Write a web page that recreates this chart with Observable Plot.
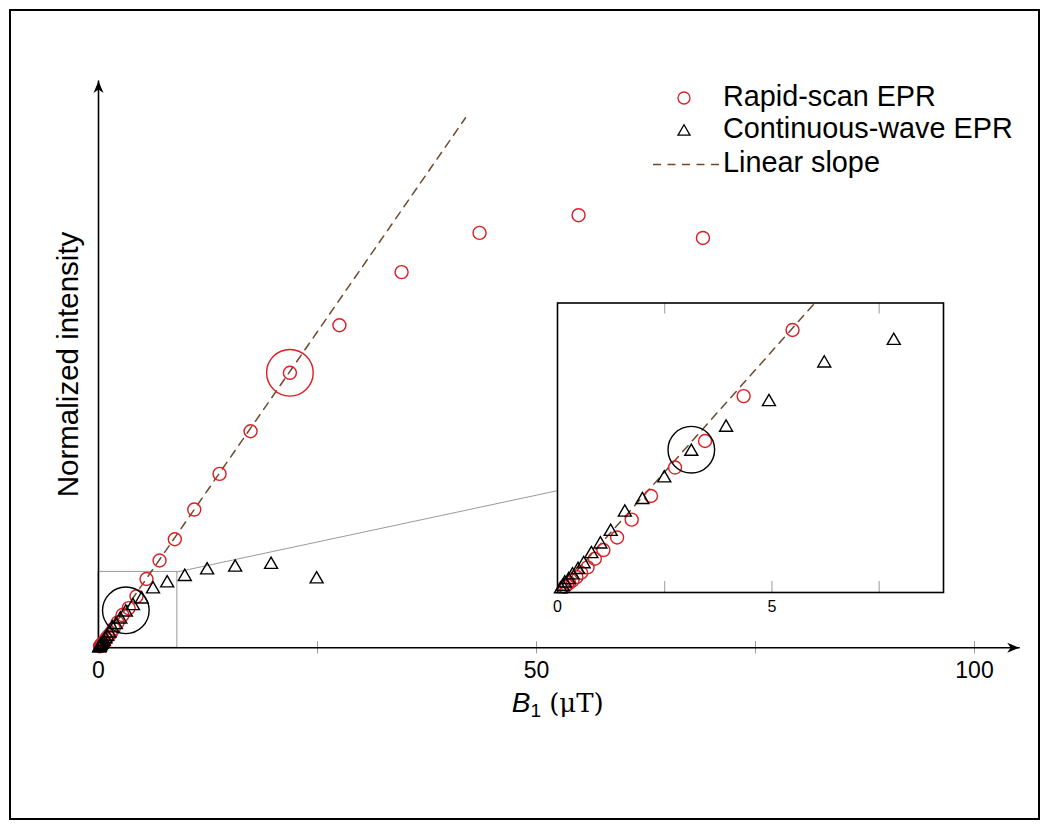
<!DOCTYPE html>
<html><head><meta charset="utf-8">
<script src="https://cdn.jsdelivr.net/npm/d3@7"></script>
<script src="https://cdn.jsdelivr.net/npm/@observablehq/plot@0.6"></script>
<style>
body{margin:0;background:#fff;}
#wrap{position:relative;width:1050px;height:831px;font-family:"Liberation Sans",Arial,sans-serif;}
#wrap svg{overflow:visible;}
#frame{position:absolute;left:9px;top:9px;width:1031px;height:811px;box-sizing:border-box;border:2px solid #000;pointer-events:none;}
#inset{position:absolute;left:547.3px;top:300px;}
#main{position:absolute;left:0;top:0;}
</style></head><body>
<div id="wrap"><div id="main"></div><div id="inset"></div><div id="frame"></div></div>
<script>
// ---- data ----
const rapidB1        = [69.0, 54.8, 43.5, 34.6, 27.5, 21.85, 17.36, 13.82, 10.93, 8.71, 6.97, 5.48, 4.34, 3.44, 2.74, 2.18, 1.73, 1.39, 1.07, 0.87, 0.70, 0.55, 0.44, 0.35, 0.27, 0.22, 0.17];
const rapidIntensity = [32.4, 34.2, 32.8, 29.7, 25.5, 21.74, 17.12, 13.75, 10.93, 8.58, 6.90, 5.44, 4.07, 3.14, 2.59, 2.00, 1.51, 1.14, 0.88, 0.70, 0.52, 0.41, 0.32, 0.25, 0.20, 0.16, 0.12];
const cwB1           = [24.9, 19.7, 15.6, 12.4, 9.85, 7.84, 6.22, 4.93, 3.93, 3.12, 2.49, 1.98, 1.57, 1.24, 1.00, 0.79, 0.61, 0.48, 0.35, 0.26, 0.17, 0.12, 0.08];
const cwIntensity    = [5.58, 6.72, 6.51, 6.29, 5.77, 5.26, 4.79, 3.99, 3.46, 2.96, 2.41, 1.96, 1.70, 1.30, 1.04, 0.84, 0.63, 0.51, 0.40, 0.30, 0.23, 0.16, 0.11];
const slopeB1        = [0, 41.9];
const slopeIntensity = [0, 41.9];
const highlightRapid = [21.85, 21.74];
const highlightCW    = [3.12, 2.96];
const zoomB1         = [0, 9];
const zoomIntensity  = [0, 6];
const connectorB1        = [9, 52.45];
const connectorIntensity = [6, 12.43];
const mainXDomain = [0, 100];
const mainYDomain = [0, 44.8];
const mainTicks      = [25, 50, 75, 100];
const mainZeroTick   = [0];
const mainTickLabels = [0, 50, 100];
const insetTicksBottom = [2.5, 5, 7.5];
const insetTicksTop    = [2.5, 7.5];
const insetTickLabels  = [0, 5];
const xArrowEnd = 105.1;
const xLabel = {symbol: "B", sub: "1", unit: " (μT)"};
const yLabel = "Normalized intensity";
const legendLabels = ["Rapid-scan EPR", "Continuous-wave EPR", "Linear slope"];

// ---- build tables ----
const rapid = rapidB1.map((x, i) => ({x, y: rapidIntensity[i]}));
const cw = cwB1.map((x, i) => ({x, y: cwIntensity[i]}));
const slope = slopeB1.map((x, i) => ({x, y: slopeIntensity[i]}));
const connector = connectorB1.map((x, i) => ({x, y: connectorIntensity[i]}));
const hlRapid = [{x: highlightRapid[0], y: highlightRapid[1]}];
const hlCW = [{x: highlightCW[0], y: highlightCW[1]}];

const FONT = '"Liberation Sans", Arial, sans-serif';
const RED = "#dc1e24";
const BROWN = "#6e4a2a";
const GRAY = "#9a9a9a";

// bbox-centred triangle (like a matplotlib '^' marker)
const triUp = {draw(ctx, size) {
  const s = Math.sqrt(size / Math.PI);
  const h = 0.866 * s;
  ctx.moveTo(0, -h); ctx.lineTo(s, h); ctx.lineTo(-s, h); ctx.closePath();
}};
// filled stealth arrow head pointing right, tip at origin
const arrowHead = {draw(ctx) {
  ctx.moveTo(0, 0); ctx.lineTo(-12, -5); ctx.lineTo(-8.5, 0); ctx.lineTo(-12, 5); ctx.closePath();
}};

const main = Plot.plot({
  width: 1050, height: 831,
  marginLeft: 98, marginRight: 76, marginTop: 80.6, marginBottom: 183.7,
  style: {fontFamily: FONT, background: "transparent", overflow: "visible"},
  x: {domain: mainXDomain, axis: null},
  y: {domain: mainYDomain, axis: null},
  marks: [
    Plot.rect([0], {x1: zoomB1[0], x2: zoomB1[1], y1: zoomIntensity[0], y2: zoomIntensity[1], fill: "none", stroke: GRAY, strokeWidth: 1}),
    Plot.line(connector, {x: "x", y: "y", stroke: GRAY, strokeWidth: 1}),
    Plot.ruleX(mainTicks, {x: d => d, y1: 0, y2: 0, insetTop: -6, insetBottom: -6, stroke: GRAY, strokeWidth: 1}),
    Plot.ruleX(mainZeroTick, {x: d => d, y1: 0, y2: 0, insetTop: 0, insetBottom: -6, stroke: GRAY, strokeWidth: 1}),
    Plot.line([{x: 0, y: 0}, {x: xArrowEnd, y: 0}], {x: "x", y: "y", stroke: "black", strokeWidth: 1.6}),
    Plot.line([{x: 0, y: 0}, {x: 0, y: mainYDomain[1]}], {x: "x", y: "y", stroke: "black", strokeWidth: 1.6}),
    Plot.dot([{x: xArrowEnd, y: 0}], {x: "x", y: "y", symbol: arrowHead, r: 5, fill: "black", stroke: "none"}),
    Plot.dot([{x: 0, y: mainYDomain[1]}], {x: "x", y: "y", symbol: arrowHead, r: 5, fill: "black", stroke: "none", rotate: -90}),
    Plot.text(mainTickLabels, {x: d => d, y: 0, dy: 23, text: d => String(d), fontSize: 23, fill: "black"}),
    Plot.text([yLabel], {frameAnchor: "left", textAnchor: "middle", dx: -30, rotate: -90, text: d => d, fontSize: 29.5, fill: "black"}),
    Plot.line(slope, {x: "x", y: "y", stroke: BROWN, strokeWidth: 1.5, strokeDasharray: "8,6.5"}),
    Plot.dot(rapid, {x: "x", y: "y", r: 6.5, stroke: RED, strokeWidth: 1.4, fill: "none"}),
    Plot.dot(cw, {x: "x", y: "y", symbol: triUp, r: 6.5, stroke: "black", strokeWidth: 1.4, fill: "none"}),
    Plot.dot(hlRapid, {x: "x", y: "y", r: 23.3, stroke: RED, strokeWidth: 1.4, fill: "none"}),
    Plot.dot(hlCW, {x: "x", y: "y", r: 23.3, stroke: "black", strokeWidth: 1.4, fill: "none"})
  ]
});
document.getElementById("main").appendChild(main);

// x-axis label with italic B, subscript 1 and serif unit
const svg = d3.select(main);
const xl = svg.append("text").attr("x", 511.7).attr("y", 711.5).attr("text-anchor", "start")
  .attr("font-family", FONT).attr("font-size", 28).attr("fill", "black");
xl.append("tspan").attr("font-style", "italic").text(xLabel.symbol);
xl.append("tspan").attr("font-size", 19).attr("dy", 5).text(xLabel.sub);
xl.append("tspan").attr("dy", -5).attr("font-family", '"DejaVu Serif", "Liberation Serif", serif').attr("font-size", 26).text(xLabel.unit);

// legend
const lg = svg.append("g").attr("font-family", FONT).attr("font-size", 28.8).attr("fill", "black").attr("text-anchor", "start");
lg.append("circle").attr("cx", 684).attr("cy", 98).attr("r", 6)
  .attr("fill", "none").attr("stroke", RED).attr("stroke-width", 1.3);
lg.append("path").attr("d", "M684,124.8 L690,135.2 L678,135.2 Z")
  .attr("fill", "none").attr("stroke", "black").attr("stroke-width", 1.3);
lg.append("line").attr("x1", 653).attr("x2", 720).attr("y1", 164.5).attr("y2", 164.5)
  .attr("stroke", BROWN).attr("stroke-width", 1.5).attr("stroke-dasharray", "8,6.5");
[106, 138, 172].forEach((yy, i) => {
  lg.append("text").attr("x", 723).attr("y", yy).attr("text-anchor", "start").text(legendLabels[i]);
});

// ---- inset ----
const inX = [0, 9], inY = [0, 6];
const within = d => d.x <= inX[1] && d.y <= inY[1];
const inset = Plot.plot({
  width: 406, height: 318,
  marginLeft: 10, marginRight: 10, marginTop: 2.5, marginBottom: 26,
  style: {fontFamily: FONT, background: "transparent", overflow: "visible"},
  x: {domain: inX, axis: null},
  y: {domain: inY, axis: null},
  marks: [
    Plot.frame({fill: "white", stroke: "none"}),
    Plot.ruleX(insetTicksBottom, {x: d => d, y1: 0, y2: 0, insetTop: -11, insetBottom: 0, stroke: GRAY, strokeWidth: 1}),
    Plot.ruleX(insetTicksTop, {x: d => d, y1: inY[1], y2: inY[1], insetTop: 0, insetBottom: -11, stroke: GRAY, strokeWidth: 1}),
    Plot.line(slope, {x: "x", y: "y", stroke: BROWN, strokeWidth: 1.5, strokeDasharray: "8,6.5", clip: true}),
    Plot.dot(rapid.filter(within), {x: "x", y: "y", r: 6.5, stroke: RED, strokeWidth: 1.4, fill: "none"}),
    Plot.dot(cw.filter(within), {x: "x", y: "y", symbol: triUp, r: 6.5, stroke: "black", strokeWidth: 1.4, fill: "none"}),
    Plot.dot(hlCW, {x: "x", y: "y", r: 23.3, stroke: "black", strokeWidth: 1.4, fill: "none"}),
    Plot.text(insetTickLabels, {x: d => d, y: 0, dy: 14.7, text: d => String(d), fontSize: 16, fill: "black"}),
    Plot.frame({stroke: "black", strokeWidth: 1.6})
  ]
});
document.getElementById("inset").appendChild(inset);
</script>
</body></html>
